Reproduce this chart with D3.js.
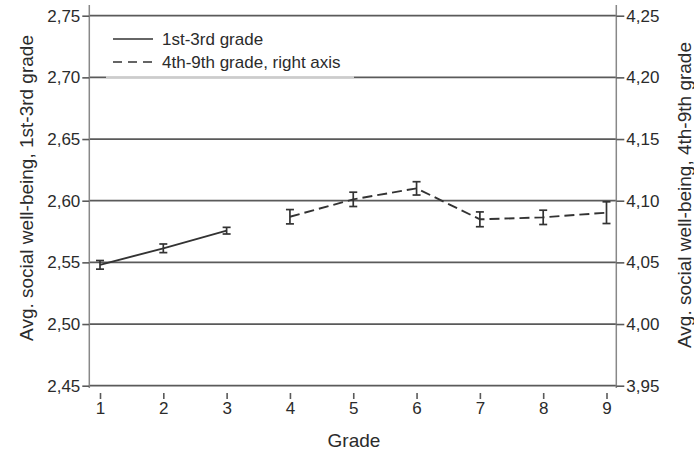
<!DOCTYPE html>
<html><head><meta charset="utf-8">
<script src="https://cdn.jsdelivr.net/npm/d3@7"></script>
<style>body{margin:0;background:#fff}svg{display:block}text{font-family:"Liberation Sans",Arial,sans-serif;fill:#2b2b2b}</style>
</head><body><svg id="c" width="694" height="453"></svg>
<script>
const gradesA = [1, 2, 3];
const valuesA = [2.548, 2.5614, 2.5757];
const errA = [0.0035, 0.0035, 0.0027];
const gradesB = [4, 5, 6, 7, 8, 9];
const valuesB = [4.087, 4.1011, 4.110, 4.0849, 4.0865, 4.0903];
const errB = [0.0058, 0.0058, 0.0054, 0.006, 0.0058, 0.0088];
const leftTicks = [2.45, 2.50, 2.55, 2.60, 2.65, 2.70, 2.75];
const rightTicks = [3.95, 4.00, 4.05, 4.10, 4.15, 4.20, 4.25];
const xTicks = [1, 2, 3, 4, 5, 6, 7, 8, 9];
const legendLabels = ["1st-3rd grade", "4th-9th grade, right axis"];

const svg = d3.select("#c");
const L = 89.3, R = 616.3, T = 15.7, B = 385.7;
const x = d3.scaleLinear().domain([1, 9]).range([100, 606.5]);
const yL = d3.scaleLinear().domain([2.45, 2.75]).range([B, T]);
const yR = d3.scaleLinear().domain([3.95, 4.25]).range([B, T]);
const fmt = d => d3.format(".2f")(d).replace(".", ",");

// gridlines
svg.append("g").selectAll("line").data(leftTicks).join("line")
  .attr("x1", L).attr("x2", R).attr("y1", d => yL(d)).attr("y2", d => yL(d))
  .attr("stroke", "#5a5a5a").attr("stroke-width", 1.7);

// axes
const gl = svg.append("g").attr("transform", `translate(${L},0)`)
  .call(d3.axisLeft(yL).tickValues(leftTicks).tickFormat(fmt).tickSize(7).tickPadding(2));
const gr = svg.append("g").attr("transform", `translate(${R},0)`)
  .call(d3.axisRight(yR).tickValues(rightTicks).tickFormat(fmt).tickSize(8).tickPadding(2));
const gx = svg.append("g").attr("transform", `translate(0,393)`)
  .call(d3.axisBottom(x).tickValues(xTicks).tickFormat(d3.format("d")).tickSize(6).tickPadding(3));
gx.select(".domain").remove();
[gl, gr].forEach(g => {
  g.select(".domain").attr("d", `M0,5V388`).attr("stroke", "#888").attr("stroke-width", 1.5);
});
[gl, gr, gx].forEach(g => {
  g.selectAll(".tick line").attr("stroke", "#5a5a5a").attr("stroke-width", 1.6);
  g.selectAll(".tick text").style("font-size", "17px").attr("fill", "#2b2b2b");
});

// legend box
svg.append("rect").attr("x", 106).attr("y", 22).attr("width", 248).attr("height", 54.5).attr("fill", "#fff");
svg.append("line").attr("x1", 106).attr("x2", 354).attr("y1", yL(2.70)).attr("y2", yL(2.70))
  .attr("stroke", "#ccc").attr("stroke-width", 1.6);
const leg = svg.append("g");
legendLabels.forEach((t, i) => {
  const yy = 39 + i * 23;
  leg.append("line").attr("x1", 113).attr("x2", 153).attr("y1", yy).attr("y2", yy)
    .attr("stroke", "#333").attr("stroke-width", 1.7)
    .attr("stroke-dasharray", i ? "9,6" : null);
  leg.append("text").attr("x", 162).attr("y", yy + 6).style("font-size", "17px").text(t);
});

// series
const dA = gradesA.map((g, i) => ({g, v: valuesA[i], e: errA[i]}));
const dB = gradesB.map((g, i) => ({g, v: valuesB[i], e: errB[i]}));
svg.append("path").datum(dA).attr("fill", "none").attr("stroke", "#333").attr("stroke-width", 1.9)
  .attr("d", d3.line().x(d => x(d.g)).y(d => yL(d.v)));
svg.append("path").datum(dB).attr("fill", "none").attr("stroke", "#333").attr("stroke-width", 1.9)
  .attr("stroke-dasharray", "10,5")
  .attr("d", d3.line().x(d => x(d.g)).y(d => yR(d.v)));

function errBars(data, y) {
  const g = svg.append("g").attr("stroke", "#333").attr("stroke-width", 1.7);
  data.forEach(d => {
    const cx = x(d.g), y1 = y(d.v - d.e), y2 = y(d.v + d.e);
    g.append("line").attr("x1", cx).attr("x2", cx).attr("y1", y1).attr("y2", y2);
    g.append("line").attr("x1", cx - 4).attr("x2", cx + 4).attr("y1", y1).attr("y2", y1);
    g.append("line").attr("x1", cx - 4).attr("x2", cx + 4).attr("y1", y2).attr("y2", y2);
  });
}
errBars(dA, yL);
errBars(dB, yR);

// titles
svg.append("text").attr("transform", "translate(33,188) rotate(-90)").attr("text-anchor", "middle")
  .style("font-size", "19px").text("Avg. social well-being, 1st-3rd grade");
svg.append("text").attr("transform", "translate(691,195) rotate(-90)").attr("text-anchor", "middle")
  .style("font-size", "19px").text("Avg. social well-being, 4th-9th grade");
svg.append("text").attr("x", 354).attr("y", 447).attr("text-anchor", "middle")
  .style("font-size", "19px").text("Grade");
</script></body></html>
